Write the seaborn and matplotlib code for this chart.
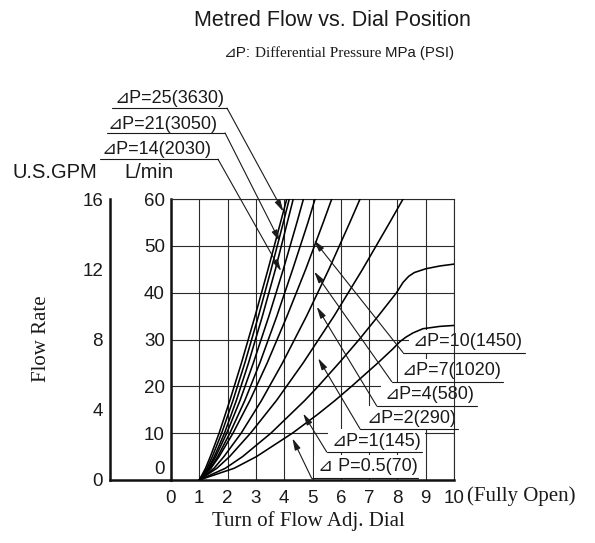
import matplotlib
matplotlib.use("Agg")
import matplotlib.pyplot as plt
import seaborn as sns
import pandas as pd
from matplotlib.transforms import ScaledTranslation

# ---------------- data ----------------
# steep family: dial position (turns) at given metered flow (L/min)
flow_pts = [0, 2.5, 5, 10, 17, 25, 35, 45, 55, 60]
dial_a = [1.0, 1.22, 1.39, 1.70, 2.08, 2.49, 2.97, 3.43, 3.87, 4.09]
dial_b = [1.0, 1.27, 1.46, 1.79, 2.19, 2.61, 3.09, 3.54, 3.97, 4.18]
dial_c = [1.0, 1.32, 1.53, 1.89, 2.31, 2.74, 3.23, 3.69, 4.11, 4.32]
dial_d = [1.0, 1.34, 1.58, 1.97, 2.44, 2.91, 3.46, 3.97, 4.45, 4.68]
dial_e = [1.0, 1.39, 1.65, 2.08, 2.61, 3.14, 3.74, 4.30, 4.84, 5.09]
dial_f = [1.0, 1.41, 1.70, 2.19, 2.79, 3.40, 4.10, 4.76, 5.38, 5.68]
dial_g = [1.0, 1.52, 1.87, 2.48, 3.20, 3.94, 4.79, 5.58, 6.32, 6.68]
dial_h = [1.0, 1.62, 2.07, 2.81, 3.73, 4.67, 5.76, 6.77, 7.73, 8.20]
# two low-pressure curves that level off
dial_i = [1.0, 1.92, 2.53, 3.53, 4.73, 5.20, 5.94, 6.65, 7.32, 7.97,
          8.20, 8.40, 8.60, 9.00, 9.50, 10.0]
flow_i = [0, 2.5, 5, 10, 17, 20, 25, 30, 35, 40,
          42.2, 43.5, 44.3, 45.1, 45.7, 46.1]
dial_j = [1.0, 2.23, 3.02, 4.29, 5.18, 5.80, 6.38, 7.31, 7.84, 8.10,
          8.30, 8.55, 8.90, 9.50, 10.0]
flow_j = [0, 2.5, 5, 10, 14, 17, 20, 25, 28, 29.6,
          30.5, 31.4, 32.3, 32.8, 33.0]

x_ticks = [0, 1, 2, 3, 4, 5, 6, 7, 8, 9, 10]
lpm_ticks = [0, 10, 20, 30, 40, 50, 60]
gpm_major = [0, 4, 8, 12, 16]
gpm_minor = [2, 6, 10, 14]

dp_labels = ["⊿P=25(3630)", "⊿P=21(3050)", "⊿P=14(2030)",
             "⊿P=10(1450)", "⊿P=7(1020)", "⊿P=4(580)", "⊿P=2(290)",
             "⊿P=1(145)", "⊿ P=0.5(70)"]

# ---------------- annotation geometry (data units) ----------------
lab_text_x = [-1.98, -2.23, -2.44, 8.55, 8.15, 7.56, 6.92, 5.68, 5.19]
lab_text_y = [81.4, 75.9, 70.5, 29.5, 23.3, 18.2, 13.2, 8.3, 2.8]
ul_y = [79.4, 74.1, 68.5, 27.2, 21.0, 15.8, 10.9, 6.0, 0.36]
ul_x0 = [-2.08, -2.26, -2.51, 8.20, 7.80, 7.27, 6.68, 5.50, 4.97]
ul_x1 = [1.98, 1.91, 1.66, 12.51, 11.73, 10.80, 10.14, 8.86, 8.73]
tip_x = [3.97, 3.85, 3.89, 5.05, 5.06, 5.15, 5.20, 4.67, 4.29]
tip_y = [57.3, 50.9, 44.6, 51.2, 44.5, 37.0, 26.0, 14.2, 8.9]

# ---------------- build dataframe ----------------
frames = []
for name, d in zip("abcdefgh", [dial_a, dial_b, dial_c, dial_d, dial_e,
                                 dial_f, dial_g, dial_h]):
    frames.append(pd.DataFrame({"dial": d, "flow": flow_pts, "curve": name}))
frames.append(pd.DataFrame({"dial": dial_i, "flow": flow_i, "curve": "i"}))
frames.append(pd.DataFrame({"dial": dial_j, "flow": flow_j, "curve": "j"}))
df = pd.concat(frames, ignore_index=True)

# ---------------- style ----------------
sns.set_style("white")
SANS = ["Liberation Sans", "DejaVu Sans"]
SERIF = ["Liberation Serif", "DejaVu Serif"]
plt.rcParams["font.family"] = SANS
plt.rcParams["text.color"] = "#1a1a1a"

W, Hpx = 595, 543
fig = plt.figure(figsize=(W / 100, Hpx / 100), dpi=100)
fig.patch.set_facecolor("white")

def fx(px):
    return px / W

def fy(py):
    return 1 - py / Hpx

B = fy(480)
HT = (480 - 199) / Hpx
ax = fig.add_axes([fx(171), B, (454 - 171) / W, HT])

sns.lineplot(data=df, x="dial", y="flow", units="curve", estimator=None,
             sort=False, color="black", lw=1.15, ax=ax, zorder=3, legend=False)

ax.set_xlim(0, 10)
ax.set_ylim(0, 60)
ax.set_xticks(x_ticks)
ax.set_yticks(lpm_ticks)
ax.set_xticklabels([str(v) for v in x_ticks])
ax.set_yticklabels([str(v) for v in lpm_ticks])
ax.grid(True, color="#2a2a2a", lw=0.8, zorder=0.5)
ax.set_axisbelow(True)
ax.tick_params(axis="both", length=0, labelsize=13.5, colors="#1a1a1a")
ax.tick_params(axis="x", pad=7)
ax.tick_params(axis="y", pad=4.5)
ax.set_xlabel("")
ax.set_ylabel("")
for s in ["top", "right"]:
    ax.spines[s].set_linewidth(0.8)
    ax.spines[s].set_color("#2a2a2a")
for s in ["left", "bottom"]:
    ax.spines[s].set_linewidth(1.8)
    ax.spines[s].set_color("#111111")
# raise the "0" flow label a little
lbl0 = ax.get_yticklabels()[0]
lbl0.set_transform(lbl0.get_transform() + ScaledTranslation(0, 9 / 72, fig.dpi_scale_trans))

# GPM scale axis
axg = fig.add_axes([fx(110), B, (171 - 110) / W, HT])
axg.set_facecolor("none")
axg.set_xlim(0, 1)
axg.set_ylim(0, 16)
axg.set_xticks([])
axg.set_yticks(gpm_major)
axg.set_yticklabels([str(v) for v in gpm_major])
axg.set_yticks(gpm_minor, minor=True)
axg.tick_params(axis="y", which="both", direction="in", length=15,
                width=0.9, pad=5, labelsize=13.5, colors="#1a1a1a")
for s in ["top", "right"]:
    axg.spines[s].set_visible(False)
for s in ["left", "bottom"]:
    axg.spines[s].set_linewidth(1.8)
    axg.spines[s].set_color("#111111")

# ΔP labels with underline + leader arrow
for i, txt in enumerate(dp_labels):
    ax.text(lab_text_x[i], lab_text_y[i], txt, ha="left", va="center",
            fontsize=13, family=SANS, clip_on=False, zorder=2.5,
            bbox=dict(boxstyle="square,pad=0.2", fc="white", ec="none"))
    ax.plot([ul_x0[i], ul_x1[i]], [ul_y[i], ul_y[i]], color="#1a1a1a",
            lw=0.8, clip_on=False, zorder=4)
    start_x = ul_x1[i] if i < 3 else ul_x0[i]
    ax.annotate("", xy=(tip_x[i], tip_y[i]), xytext=(start_x, ul_y[i]),
                arrowprops=dict(arrowstyle="-|>,head_length=0.7,head_width=0.18",
                                color="#1a1a1a", lw=0.8, shrinkA=0, shrinkB=0),
                annotation_clip=False, zorder=4)

# titles and axis texts
fig.text(fx(332), fy(21), "Metred Flow vs. Dial Position", ha="center",
         va="center", fontsize=15.5, family=SANS)

# subtitle built from three pieces laid out side by side on one baseline
renderer = fig.canvas.get_renderer()
sub_parts = [("⊿P:", SANS, 11), ("Differential Pressure", SERIF, 11),
             ("MPa (PSI)", SANS, 10.8)]
sub_gaps = [4, 3, 0]
sub_objs = []
for s_txt, fam, fs in sub_parts:
    sub_objs.append(fig.text(0, fy(57), s_txt, ha="left", va="baseline",
                             fontsize=fs, family=fam))
widths = [t.get_window_extent(renderer).width for t in sub_objs]
total = sum(widths) + sum(sub_gaps)
cur = 339 - total / 2
for t, w, g in zip(sub_objs, widths, sub_gaps):
    t.set_x(fx(cur))
    cur += w + g

fig.text(fx(13), fy(172), "U.S.GPM", ha="left", va="center", fontsize=14.5,
         family=SANS)
fig.text(fx(124), fy(172), "L/min", ha="left", va="center", fontsize=14.5,
         family=SANS)
fig.text(fx(42), fy(339), "Flow Rate", ha="center", va="center", rotation=90,
         fontsize=15, family=SERIF)
fig.text(fx(308), fy(521), "Turn of Flow Adj. Dial", ha="center", va="center",
         fontsize=15, family=SERIF)
fig.text(fx(467), fy(496), "(Fully Open)", ha="left", va="center",
         fontsize=15, family=SERIF)

fig.savefig("out.png", dpi=100, facecolor="white")
